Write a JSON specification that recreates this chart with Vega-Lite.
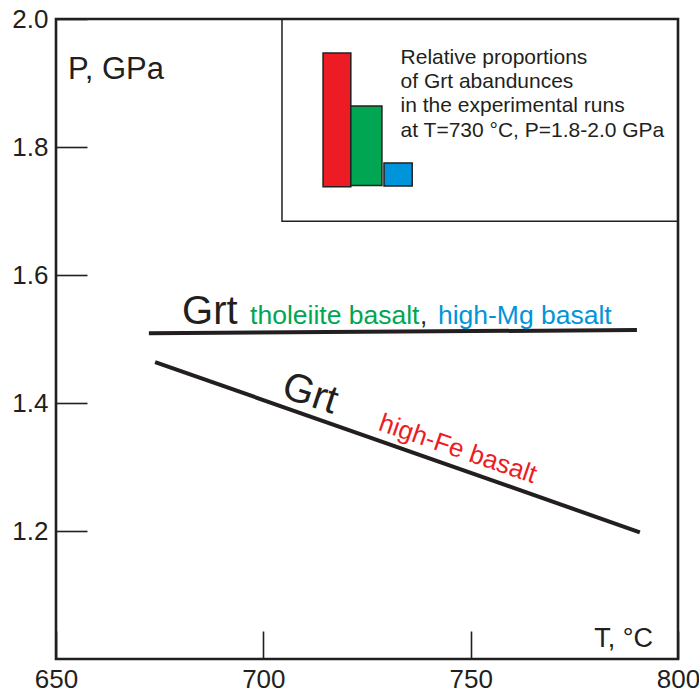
{
  "$schema": "https://vega.github.io/schema/vega-lite/v6.json",
  "width": 622,
  "height": 640,
  "autosize": "none",
  "padding": {"left": 56, "top": 19, "right": 21, "bottom": 36},
  "background": "white",
  "config": {
    "view": {"stroke": "#231f20", "strokeWidth": 2.6},
    "font": "Liberation Sans"
  },
  "datasets": {
    "lines": [
      {"T": 672.4, "P": 1.509, "phase": "Grt (tholeiite, high-Mg basalt)"},
      {"T": 790.1, "P": 1.514, "phase": "Grt (tholeiite, high-Mg basalt)"},
      {"T": 673.9, "P": 1.464, "phase": "Grt (high-Fe basalt)"},
      {"T": 790.8, "P": 1.198, "phase": "Grt (high-Fe basalt)"}
    ],
    "bars": [
      {"x": 714.4, "x2": 721.1, "y": 1.738, "y2": 1.947, "rock": "high-Fe basalt", "color": "#ed1c24"},
      {"x": 721.1, "x2": 728.6, "y": 1.740, "y2": 1.864, "rock": "tholeiite basalt", "color": "#00a651"},
      {"x": 729.1, "x2": 735.9, "y": 1.739, "y2": 1.775, "rock": "high-Mg basalt", "color": "#0095da"}
    ]
  },
  "layer": [
    {
      "data": {"values": [{"x": 704.5, "x2": 800, "y": 1.684, "y2": 2.0}]},
      "mark": {"type": "rect", "fill": null, "fillOpacity": 0, "stroke": "#231f20", "strokeWidth": 1.5},
      "encoding": {
        "x": {"field": "x", "type": "quantitative", "scale": {"domain": [650, 800], "nice": false, "zero": false},
          "axis": {"values": [650, 700, 750, 800], "title": null, "domain": false, "grid": false, "tickSize": -28, "tickWidth": 1.6, "tickColor": "#231f20", "labelFontSize": 26, "labelColor": "#231f20", "labelPadding": 35, "labelFont": "Liberation Sans", "labelFlush": false, "labelOverlap": false}},
        "x2": {"field": "x2"},
        "y": {"field": "y", "type": "quantitative", "scale": {"domain": [1.0, 2.0], "nice": false, "zero": false},
          "axis": {"values": [1.2, 1.4, 1.6, 1.8, 2.0], "format": ".1f", "title": null, "domain": false, "grid": false, "tickSize": -31, "tickWidth": 1.6, "tickColor": "#231f20", "labelFontSize": 26, "labelColor": "#231f20", "labelPadding": 39, "labelFont": "Liberation Sans", "labelFlush": false, "labelOverlap": false}},
        "y2": {"field": "y2"}
      }
    },
    {
      "data": {"name": "bars"},
      "mark": {"type": "rect", "stroke": "#231f20", "strokeWidth": 1.5},
      "encoding": {
        "x": {"field": "x", "type": "quantitative"},
        "x2": {"field": "x2"},
        "y": {"field": "y", "type": "quantitative"},
        "y2": {"field": "y2"},
        "fill": {"field": "color", "type": "nominal", "scale": null}
      }
    },
    {
      "data": {"name": "lines"},
      "mark": {"type": "line", "color": "#231f20", "strokeWidth": 4},
      "encoding": {
        "x": {"field": "T", "type": "quantitative"},
        "y": {"field": "P", "type": "quantitative"},
        "detail": {"field": "phase", "type": "nominal"}
      }
    },
    {
      "data": {"values": [{"x": 652.9, "y": 1.906, "label": "P, GPa"}]},
      "mark": {"type": "text", "align": "left", "baseline": "alphabetic", "fontSize": 31, "color": "#231f20"},
      "encoding": {"x": {"field": "x", "type": "quantitative"}, "y": {"field": "y", "type": "quantitative"}, "text": {"field": "label"}}
    },
    {
      "data": {"values": [{"x": 794, "y": 1.019, "label": "T, °C"}]},
      "mark": {"type": "text", "align": "right", "baseline": "alphabetic", "fontSize": 27, "color": "#231f20"},
      "encoding": {"x": {"field": "x", "type": "quantitative"}, "y": {"field": "y", "type": "quantitative"}, "text": {"field": "label"}}
    },
    {
      "data": {"values": [{"x": 680.4, "y": 1.523, "label": "Grt"}]},
      "mark": {"type": "text", "align": "left", "baseline": "alphabetic", "fontSize": 40, "color": "#231f20"},
      "encoding": {"x": {"field": "x", "type": "quantitative"}, "y": {"field": "y", "type": "quantitative"}, "text": {"field": "label"}}
    },
    {
      "data": {"values": [{"x": 696.8, "y": 1.523, "label": "tholeiite basalt"}]},
      "mark": {"type": "text", "align": "left", "baseline": "alphabetic", "fontSize": 26.5, "color": "#00a651"},
      "encoding": {"x": {"field": "x", "type": "quantitative"}, "y": {"field": "y", "type": "quantitative"}, "text": {"field": "label"}}
    },
    {
      "data": {"values": [{"x": 737.8, "y": 1.523, "label": ","}]},
      "mark": {"type": "text", "align": "left", "baseline": "alphabetic", "fontSize": 26, "color": "#231f20"},
      "encoding": {"x": {"field": "x", "type": "quantitative"}, "y": {"field": "y", "type": "quantitative"}, "text": {"field": "label"}}
    },
    {
      "data": {"values": [{"x": 742.1, "y": 1.523, "label": "high-Mg basalt"}]},
      "mark": {"type": "text", "align": "left", "baseline": "alphabetic", "fontSize": 26.5, "color": "#0095da"},
      "encoding": {"x": {"field": "x", "type": "quantitative"}, "y": {"field": "y", "type": "quantitative"}, "text": {"field": "label"}}
    },
    {
      "data": {"values": [{"x": 711.3, "y": 1.414, "label": "Grt"}]},
      "mark": {"type": "text", "align": "center", "baseline": "middle", "fontSize": 40, "angle": 18, "color": "#231f20"},
      "encoding": {"x": {"field": "x", "type": "quantitative"}, "y": {"field": "y", "type": "quantitative"}, "text": {"field": "label"}}
    },
    {
      "data": {"values": [{"x": 746.9, "y": 1.328, "label": "high-Fe basalt"}]},
      "mark": {"type": "text", "align": "center", "baseline": "middle", "fontSize": 26, "angle": 19, "color": "#ed1c24"},
      "encoding": {"x": {"field": "x", "type": "quantitative"}, "y": {"field": "y", "type": "quantitative"}, "text": {"field": "label"}}
    },
    {
      "data": {"values": [{"x": 733.1, "y": 1.93, "label": "Relative proportions\nof Grt abandunces\nin the experimental runs\nat T=730 °C, P=1.8-2.0 GPa"}]},
      "mark": {"type": "text", "align": "left", "baseline": "alphabetic", "fontSize": 21, "lineHeight": 24.3, "lineBreak": "\n", "color": "#231f20"},
      "encoding": {"x": {"field": "x", "type": "quantitative"}, "y": {"field": "y", "type": "quantitative"}, "text": {"field": "label"}}
    }
  ]
}
